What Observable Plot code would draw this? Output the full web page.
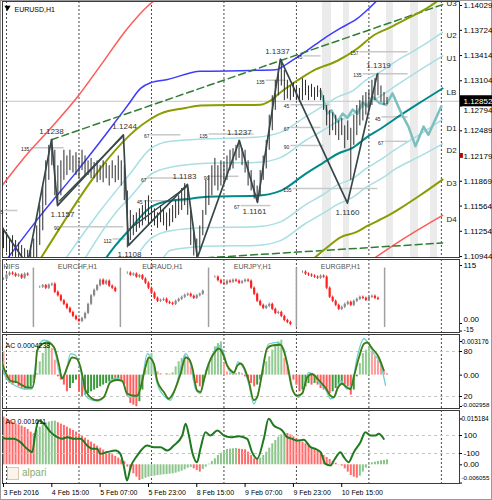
<!DOCTYPE html>
<html>
<head>
<meta charset="utf-8">
<script src="https://cdn.jsdelivr.net/npm/d3@7"></script>
<script src="https://cdn.jsdelivr.net/npm/@observablehq/plot@0.6"></script>
<style>
  body { margin: 0; background: #fff; }
  #chart { position: relative; width: 492px; height: 500px; overflow: hidden; background: #fff; font-family: "Liberation Sans", Arial, sans-serif; }
  #chart svg { position: absolute; left: 0; }
  #edge { position: absolute; left: 0; top: 0; width: 490px; height: 498px; border: 1px solid #9a9a9a; pointer-events: none; }
  #logo { position: absolute; left: 7px; top: 467px; width: 10px; height: 11px; border: 1px solid #d9c9b2; background: #fbf4ea; }
  #logotext { position: absolute; left: 22px; top: 467px; font-size: 10px; color: #86ad6e; }
</style>
</head>
<body>
<div id="chart"><div id="edge"></div></div>
<script>
// ================= DATA =================
// hourly bars, index 0 = 3 Feb 2016 23:00
const highs = [1.1129,1.1124,1.1116,1.1120,1.1114,1.1111,1.1108,1.1104,1.1102,1.1108,
1.1116,1.1132,1.1157,1.1181,1.1212,1.1231,1.1238,1.1225,1.1206,1.1212,
1.1225,1.1218,1.1225,1.1218,1.1222,1.1215,1.1225,1.1218,1.1212,1.1215,
1.1210,1.1212,1.1206,1.1212,1.1209,1.1206,1.1212,1.1206,1.1218,1.1212,
1.1206,1.1175,1.1151,1.1145,1.1148,1.1153,1.1157,1.1163,1.1169,1.1157,
1.1153,1.1148,1.1157,1.1151,1.1148,1.1153,1.1157,1.1163,1.1169,1.1178,
1.1184,1.1181,1.1151,1.1126,1.1116,1.1132,1.1151,1.1188,1.1194,1.1206,
1.1215,1.1206,1.1212,1.1210,1.1218,1.1225,1.1227,1.1231,1.1237,1.1227,
1.1225,1.1212,1.1200,1.1188,1.1181,1.1200,1.1218,1.1237,1.1268,1.1292,
1.1311,1.1323,1.1336,1.1323,1.1311,1.1304,1.1308,1.1304,1.1301,1.1313,
1.1311,1.1304,1.1306,1.1302,1.1304,1.1301,1.1292,1.1280,1.1274,1.1271,
1.1268,1.1261,1.1264,1.1255,1.1261,1.1252,1.1268,1.1280,1.1286,1.1292,
1.1296,1.1298,1.1311,1.1313,1.1319,1.1304,1.1296,1.1290];
const lows = [1.1104,1.1099,1.1092,1.1094,1.1089,1.1087,1.1083,1.1079,1.1077,1.1083,
1.1087,1.1092,1.1108,1.1126,1.1157,1.1188,1.1206,1.1169,1.1157,1.1169,
1.1188,1.1194,1.1200,1.1197,1.1194,1.1190,1.1200,1.1194,1.1194,1.1190,
1.1190,1.1185,1.1188,1.1185,1.1190,1.1181,1.1190,1.1185,1.1188,1.1181,
1.1163,1.1105,1.1114,1.1120,1.1124,1.1129,1.1132,1.1138,1.1132,1.1136,
1.1132,1.1129,1.1136,1.1132,1.1126,1.1131,1.1136,1.1141,1.1145,1.1151,
1.1157,1.1145,1.1108,1.1095,1.1092,1.1102,1.1120,1.1145,1.1157,1.1169,
1.1181,1.1175,1.1181,1.1185,1.1188,1.1200,1.1202,1.1212,1.1215,1.1206,
1.1197,1.1181,1.1175,1.1165,1.1161,1.1169,1.1188,1.1202,1.1225,1.1249,
1.1274,1.1292,1.1304,1.1286,1.1288,1.1286,1.1290,1.1286,1.1284,1.1286,
1.1292,1.1286,1.1290,1.1286,1.1290,1.1286,1.1274,1.1255,1.1243,1.1249,
1.1243,1.1237,1.1243,1.1227,1.1237,1.1188,1.1231,1.1243,1.1255,1.1261,
1.1268,1.1274,1.1280,1.1286,1.1292,1.1284,1.1280,1.1281];

const daySeparators = [1, 25, 49, 73, 97, 121, 145];
const bandStart = [105.6, 112.6, 126.8, 134.8, 141.4];
const bandEnd   = [108.6, 114.6, 129.1, 137.4, 143.7];
const currentPrice = 1.12852;
const askMarker = 1.1218;
const priceTicks = [1.14029, 1.13724, 1.13414, 1.13104, 1.12489, 1.12179, 1.11869, 1.11564, 1.11254, 1.10944];
const hiddenTick = [1.12794];

const zigzag = [[-1.0,1.1133],[7.9,1.1084],[15.9,1.1238],[17.9,1.1157],[39.7,1.1244],[41.4,1.1108],[60.9,1.1183],[64.2,1.1093],[78.1,1.1237],[84.1,1.1161],[91.7,1.1337],[113.9,1.1160],[123.8,1.1319]];
const wedgeA = [[18.6,1.1163],[39.2,1.1241]];
const wedgeB = [[41.6,1.1128],[60.6,1.1180]];

const redUpper = [[-1.0,1.1179],[7.3,1.1218],[15.6,1.1252],[24.8,1.1292],[32.1,1.1329],[41.1,1.1375],[47.7,1.1402],[52.0,1.1415]];
const redLower = [[119.9,1.1085],[131.5,1.1114],[145.4,1.1145]];
const blueLine = [[1.3,1.1092],[12.3,1.1145],[24.5,1.1200],[34.8,1.1249],[41.1,1.1280],[45.4,1.1301],[48.7,1.1308],[54.3,1.1312],[65.2,1.1322],[81.8,1.1323],[90.1,1.1324],[95.0,1.1334],[100.7,1.1348],[106.0,1.1362],[111.6,1.1375],[117.2,1.1387],[120.9,1.1399],[124.8,1.1413]];
const oliveUpper = [[12.3,1.1092],[47.7,1.1261],[52.0,1.1270],[60.3,1.1277],[65.2,1.1280],[85.1,1.1281],[88.4,1.1286],[91.7,1.1296],[97.4,1.1311],[102.6,1.1323],[110.6,1.1335],[117.2,1.1350],[122.5,1.1366],[128.1,1.1376],[133.8,1.1387],[140.4,1.1400],[144.7,1.1411]];
const oliveLower = [[100.0,1.1083],[106.6,1.1104],[111.6,1.1118],[116.6,1.1124],[120.5,1.1132],[126.5,1.1143],[131.5,1.1154],[138.1,1.1170],[145.4,1.1189]];
const tealCenter = [[32.1,1.1083],[37.1,1.1108],[42.1,1.1129],[48.7,1.1155],[55.3,1.1163],[60.9,1.1165],[67.5,1.1168],[83.4,1.1169],[91.7,1.1175],[100.0,1.1196],[105.6,1.1209],[110.9,1.1221],[115.6,1.1228],[119.9,1.1240],[125.5,1.1253],[129.8,1.1264],[138.1,1.1284],[145.4,1.1301]];
const cyanU2 = [[18.9,1.1083],[32.1,1.1151],[42.1,1.1197],[48.7,1.1227],[55.3,1.1236],[67.5,1.1239],[83.4,1.1241],[91.7,1.1247],[100.0,1.1266],[105.6,1.1279],[110.9,1.1291],[115.6,1.1298],[119.9,1.1311],[125.5,1.1323],[129.8,1.1334],[138.1,1.1352],[145.4,1.1370]];
const cyanU1 = [[25.5,1.1083],[37.1,1.1148],[42.1,1.1168],[48.7,1.1195],[55.3,1.1204],[67.5,1.1209],[83.4,1.1210],[91.7,1.1216],[100.0,1.1237],[105.6,1.1249],[110.9,1.1261],[115.6,1.1269],[119.9,1.1281],[125.5,1.1293],[129.8,1.1304],[138.1,1.1324],[145.4,1.1341]];
const cyanD1 = [[45.4,1.1102],[48.7,1.1116],[55.3,1.1126],[67.5,1.1130],[83.4,1.1131],[91.7,1.1137],[100.0,1.1158],[105.6,1.1170],[110.9,1.1183],[115.6,1.1190],[119.9,1.1202],[125.5,1.1215],[129.8,1.1226],[138.1,1.1245],[145.4,1.1263]];
const cyanD2 = [[52.0,1.1087],[55.3,1.1102],[67.5,1.1107],[83.4,1.1108],[91.7,1.1114],[100.0,1.1135],[105.6,1.1147],[110.9,1.1159],[115.6,1.1167],[119.9,1.1179],[125.5,1.1191],[129.8,1.1202],[138.1,1.1218],[145.4,1.1233]];
const trendUpper = [[15.9,1.1238],[145.4,1.1404]];
const trendLower = [[63.6,1.1092],[145.4,1.1111]];
const projection = [[105.0,1.1298],[107.3,1.1270],[108.6,1.1274],[110.6,1.1260],[112.3,1.1270],[113.9,1.1265],[115.6,1.1275],[117.2,1.1270],[118.9,1.1284],[120.5,1.1279],[122.2,1.1291],[124.5,1.1283],[126.8,1.1281],[128.8,1.1295],[131.8,1.1270],[134.1,1.1254],[136.4,1.1230],[139.1,1.1254],[140.7,1.1244],[145.0,1.1279]];

const highLabels = [["1.1238",15.9,1.1238],["1.1244",40.1,1.1244],["1.1183",59.9,1.1183],["1.1237",78.1,1.1237],["1.1337",90.7,1.1337],["1.1319",124.2,1.1319]];
const lowLabels = [["1.1157",19.5,1.1157],["1.1108",41.7,1.1108],["1.1161",83.1,1.1161],["1.1160",113.9,1.1160]];

const levelNames = ["135","5","90","112","67","67","45","135","90","67","135","67","90","45","135","157","135","45","67","45"];
const levelPrice = [1.1228,1.1151,1.1131,1.1116,1.1244,1.1191,1.1163,1.1245,1.1193,1.1157,1.1178,1.1253,1.1231,1.1281,1.1311,1.1346,1.1319,1.1266,1.1236,1.1341];
const levelFrom  = [8.9,0.3,18.9,36.1,48.7,47.7,46.4,67.9,68.5,78.5,95.7,95.0,95.0,95.0,86.8,117.9,118.9,125.2,126.2,99.3];
const levelTo    = [19.9,4.6,39.7,40.4,58.6,59.6,60.9,82.8,77.8,88.4,123.8,105.0,106.0,108.0,93.4,133.8,133.8,133.8,133.8,105.0];

const channelNames = ["U3","U2","U1","LB","D1","D2","D3","D4"];
const channelNamePrice = [1.1406,1.1366,1.1338,1.1296,1.1252,1.1225,1.1184,1.1140];

// symbol overview pane
const miniNames = ["HIFS","EURCHF,H1","EURAUD,H1","EURJPY,H1","EURGBP,H1"];
const miniStart = [0, 12, 41, 70, 99];
const miniTitleAt = [2.6, 24.5, 52.6, 82.5, 111.6];
const miniDividers = [9.9, 38.7, 67.9, 97.0, 126.2];
const miniCloses = [
  [88,96,100,98,94,96,90,98,96],
  [72,75,70,76,78,62,55,45,38,30,22,14,8,4,10,20,38,55,66,75,86,78,84,74,70,64],
  [100,96,98,92,95,88,80,70,60,50,44,46,48,42,40,38,44,48,52,56,58,54,50,55,58,64],
  [92,85,80,78,84,82,86,84,80,83,86,84,70,58,44,36,30,34,38,28,20,22,14,6,2,-2],
  [102,98,96,94,92,90,94,92,70,52,44,36,28,32,38,42,36,44,48,52,50,46,52,54,50,48]
];

// AC pane
const acValues = [0.00220,-0.00047,-0.00079,-0.00094,-0.00079,-0.00110,-0.00126,-0.00141,-0.00126,-0.00110,
-0.00079,0.00016,0.00126,0.00204,0.00267,0.00298,0.00251,0.00141,-0.00016,-0.00047,
-0.00094,-0.00157,-0.00126,-0.00079,-0.00047,-0.00157,-0.00204,-0.00188,-0.00173,-0.00157,
-0.00141,-0.00126,-0.00110,-0.00094,-0.00079,-0.00063,-0.00047,-0.00053,-0.00041,-0.00063,
-0.00094,-0.00204,-0.00267,-0.00283,-0.00298,-0.00251,-0.00141,0.00047,0.00157,0.00204,
0.00063,0.00031,0.00016,0,0.00016,0.00009,0.00022,0.00079,0.00126,0.00157,
0.00188,0.00173,0.00079,-0.00047,-0.00079,-0.00110,-0.00094,0.00047,0.00110,0.00188,
0.00267,0.00298,0.00314,0.00110,0.00031,0.00016,0.00022,0.00016,0.00025,0.00016,
-0.00016,-0.00047,-0.00079,-0.00110,-0.00094,-0.00047,0.00047,0.00126,0.00173,0.00236,
0.00283,0.00314,0.00330,0.00157,0.00079,0,-0.00047,-0.00094,-0.00157,-0.00141,
-0.00110,-0.00079,-0.00094,-0.00079,-0.00094,-0.00126,-0.00141,-0.00157,-0.00173,-0.00157,
-0.00126,-0.00094,-0.00079,-0.00094,-0.00110,-0.00188,-0.00141,-0.00016,0.00110,0.00204,
0.00236,0.00267,0.00220,0.00173,0.00141,0.00110,0.00047,0.00016];
const acSlow = [[-1.0,70],[0.7,52],[2.3,41],[4.5,39],[6.2,35],[7.8,32],[9.5,32],[10.6,55],[11.1,81],[12.8,90],[14.5,92],[16.7,86],[18.3,64],[19.4,44],[21.1,59],[22.7,72],[24.4,70],[25.5,59],[27.2,28],[29.4,17],[31.0,15],[33.2,19],[35.4,39],[37.6,42],[39.3,41],[40.9,24],[43.2,21],[44.3,21],[45.4,32],[47.0,59],[48.1,72],[49.8,64],[50.9,41],[53.1,26],[54.7,17],[56.4,26],[58.6,50],[60.3,72],[61.4,70],[62.5,59],[64.1,28],[65.2,26],[66.3,41],[68.0,64],[69.6,77],[71.3,84],[72.4,79],[74.1,61],[75.2,55],[76.3,52],[77.4,61],[78.5,64],[79.6,59],[81.2,41],[82.9,15],[84.0,19],[85.6,50],[87.3,84],[88.9,88],[91.7,89],[92.8,81],[93.9,64],[95.6,30],[97.2,21],[98.9,24],[100.6,46],[102.2,50],[103.9,44],[105.5,37],[106.6,32],[108.3,21],[109.4,19],[110.5,30],[112.1,37],[113.8,32],[114.9,30],[116.0,46],[117.7,72],[119.3,90],[120.4,92],[122.1,84],[124.3,72],[125.9,55]];
const acFast = [[-1.0,72],[0.7,46],[2.9,37],[5.1,32],[7.3,30],[9.5,30],[10.6,64],[11.7,88],[13.4,95],[15.6,92],[17.2,77],[18.9,46],[20.5,50],[22.2,77],[23.8,75],[25.5,55],[27.2,21],[29.4,15],[31.6,14],[33.8,24],[35.4,41],[37.6,44],[39.8,37],[41.5,19],[43.7,19],[45.9,41],[47.6,77],[49.2,68],[50.9,37],[53.6,19],[55.3,15],[57.0,32],[59.2,66],[60.3,77],[61.9,64],[63.6,30],[65.2,24],[67.4,59],[69.6,79],[71.3,88],[73.0,77],[74.6,55],[76.3,50],[77.6,66],[79.0,61],[81.2,37],[82.9,10],[84.5,28],[86.2,68],[87.8,90],[90.6,92],[92.8,84],[94.5,55],[96.1,26],[97.8,19],[99.4,30],[101.1,52],[102.8,48],[104.4,39],[106.6,30],[108.3,17],[109.9,21],[111.6,41],[113.8,30],[115.4,37],[117.1,72],[119.3,97],[121.0,90],[122.6,77],[124.8,64],[126.5,35]];

// AO pane
const aoValues = [0.01582,0.01526,0.01471,0.01416,0.01360,0.01327,0.01283,0.01239,0.01172,0.01084,
0.01029,0.01139,0.01250,0.01327,0.01394,0.01416,0.01438,0.01449,0.01394,0.01349,
0.01305,0.01250,0.01194,0.01139,0.01084,0.01018,0.00951,0.00885,0.00818,0.00752,
0.00686,0.00619,0.00553,0.00487,0.00431,0.00376,0.00332,0.00277,0.00221,0.00166,
0.00111,-0.00077,-0.00188,-0.00299,-0.00409,-0.00520,-0.00487,-0.00442,-0.00409,-0.00387,
-0.00376,-0.00354,-0.00343,-0.00332,-0.00321,-0.00310,-0.00299,-0.00277,-0.00243,-0.00210,
-0.00166,-0.00111,-0.00088,-0.00133,-0.00188,-0.00243,-0.00155,-0.00077,0.00022,0.00111,
0.00199,0.00310,0.00387,0.00476,0.00509,0.00520,0.00531,0.00542,0.00520,0.00509,
0.00498,0.00420,0.00310,0.00199,0.00177,0.00221,0.00310,0.00420,0.00553,0.00697,
0.00807,0.00918,0.00995,0.01062,0.01040,0.00995,0.00929,0.00863,0.00796,0.00752,
0.00697,0.00641,0.00575,0.00531,0.00465,0.00398,0.00310,0.00243,0.00177,0.00111,
0.00055,0.00011,-0.00044,-0.00133,-0.00243,-0.00354,-0.00409,-0.00442,-0.00376,-0.00243,
-0.00111,-0.00022,0.00066,0.00088,0.00111,0.00133,0.00144,0.00166];
const aoLine = [[-1,81],[1.2,63],[3.4,63],[5.6,26],[7.8,-48],[9.5,-85],[10.6,137],[11.7,267],[13.4,230],[15.6,137],[17.8,81],[19.4,63],[21.1,81],[23.3,63],[25.5,63],[27.7,-11],[29.4,-48],[31.0,-48],[32.1,-104],[34.3,-85],[37.1,-67],[38.7,-104],[39.8,-233],[40.9,-400],[42.1,-252],[44.3,-122],[47.6,-11],[49.8,-30],[52.0,-30],[54.2,-67],[56.4,-11],[59.2,100],[60.3,230],[61.4,100],[62.5,-85],[64.1,-196],[65.2,-48],[66.9,137],[68.5,100],[70.8,156],[73.0,100],[75.2,81],[78.0,93],[80.7,63],[82.3,-85],[84.0,-159],[86.2,63],[87.8,285],[89.5,211],[92.3,156],[93.9,81],[95.6,63],[97.2,44],[99.4,52],[101.7,-30],[103.3,-48],[105.0,-85],[106.6,-215],[108.3,-233],[109.4,-178],[111.6,-85],[112.7,-141],[114.3,-196],[116.0,-85],[118.2,26],[119.8,137],[121.5,100],[123.2,100],[124.3,119],[125.9,63]];

const timeTicks = [0, 16, 32, 48, 64, 80, 96, 112];
const timeLabels = ["3 Feb 2016","4 Feb 15:00","5 Feb 07:00","5 Feb 23:00","8 Feb 15:00","9 Feb 07:00","9 Feb 23:00","10 Feb 15:00"];

// ================= DRAWING =================
const XDOM = [-0.331, 151.0], XRANGE = [2, 459];
const FONT = '"Liberation Sans", Arial, sans-serif';
const chart = document.getElementById("chart");

function pane(top, height, y, marks) {
  const svg = Plot.plot({
    width: 492, height, marginLeft: 2, marginRight: 33, marginTop: 1, marginBottom: 1,
    x: {domain: XDOM, range: XRANGE, axis: null},
    y: {...y, axis: null},
    style: {position: "absolute", left: "0px", top: top + "px", background: "transparent", overflow: "visible", fontFamily: FONT, fontSize: "8px", color: "#000"},
    marks
  });
  chart.appendChild(svg);
}
const xy = {x: d => d[0], y: d => d[1], clip: true};
const daySep = () => Plot.ruleX(daySeparators, {stroke: "#4a4a4a", strokeDasharray: "2,2", strokeWidth: 1});
const frame = () => Plot.frame({stroke: "#3a3a3a"});
function rightLabels(vals, labs, dy = 0, fontSize = 8, dx = 4) {
  return [
    Plot.ruleY(vals, {x1: 151.0, x2: 152.0, stroke: "#000"}),
    Plot.text(vals, {x: 151.0, y: d => d, text: (d, k) => labs[k], textAnchor: "start", dx, dy, fontSize, fill: "#000"})
  ];
}

// ---- main price pane ----
const bars = highs.map((h, i) => ({i, h, l: lows[i]}));
const levels = levelNames.map((n, k) => ({n, p: levelPrice[k], a: levelFrom[k], b: levelTo[k]}));
pane(0, 258, {domain: [1.10932, 1.14066], range: [257, 2]}, [
  Plot.rect(bandStart, {x1: d => d, x2: (d, k) => bandEnd[k], fill: "#ebebeb"}),
  Plot.ruleY([currentPrice], {stroke: "#c6c6c6"}),
  daySep(),
  Plot.link(levels, {x1: "a", x2: "b", y1: "p", y2: "p", stroke: "#c8c8c8", strokeWidth: 1.5}),
  Plot.line(cyanU2, {...xy, stroke: "#a9dfe3", curve: "monotone-x"}),
  Plot.line(cyanU1, {...xy, stroke: "#a9dfe3", curve: "monotone-x"}),
  Plot.line(cyanD1, {...xy, stroke: "#a9dfe3", curve: "monotone-x"}),
  Plot.line(cyanD2, {...xy, stroke: "#a9dfe3", curve: "monotone-x"}),
  Plot.line(redUpper, {...xy, stroke: "#ff5a5a", curve: "monotone-x"}),
  Plot.line(redLower, {...xy, stroke: "#ff5a5a", curve: "monotone-x"}),
  Plot.line(blueLine, {...xy, stroke: "#3c3cff", curve: "monotone-x"}),
  Plot.line(trendUpper, {...xy, stroke: "#2e7d32", strokeDasharray: "7,4"}),
  Plot.line(trendLower, {...xy, stroke: "#2e7d32", strokeDasharray: "7,4"}),
  Plot.line(oliveUpper, {...xy, stroke: "#8a9c00", strokeWidth: 2, curve: "monotone-x"}),
  Plot.line(oliveLower, {...xy, stroke: "#8a9c00", strokeWidth: 2, curve: "monotone-x"}),
  Plot.line(tealCenter, {...xy, stroke: "#008a8a", strokeWidth: 2, curve: "monotone-x"}),
  Plot.line(projection, {...xy, stroke: "#7cbfbf", strokeWidth: 2.5}),
  Plot.ruleX(bars, {x: "i", y1: "l", y2: "h", stroke: "#2a2a2a", strokeWidth: 1, clip: true}),
  Plot.line(zigzag, {...xy, stroke: "#37474a", strokeWidth: 1.7}),
  Plot.line(wedgeA, {...xy, stroke: "#37474a", strokeWidth: 1.3}),
  Plot.line(wedgeB, {...xy, stroke: "#37474a", strokeWidth: 1.3}),
  Plot.text(highLabels, {x: d => d[1], y: d => d[2], text: d => d[0], dy: -8, fontSize: 8, fill: "#333"}),
  Plot.text(lowLabels, {x: d => d[1], y: d => d[2], text: d => d[0], dy: 9, fontSize: 8, fill: "#333"}),
  Plot.text(levels, {x: "a", y: "p", text: "n", textAnchor: "end", dx: -1, dy: 2, fontSize: 5, fill: "#222"}),
  Plot.text(channelNames, {x: 146.7, y: (d, k) => channelNamePrice[k], text: d => d, textAnchor: "start", fontSize: 8, fill: "#222"}),
  Plot.dot(["icon"], {frameAnchor: "top-left", dx: 5, dy: 6, symbol: "triangle", r: 2.3, fill: "#000", rotate: 180}),
  Plot.text(["EURUSD,H1"], {frameAnchor: "top-left", dx: 12, dy: 6, text: d => d, textAnchor: "start", fontSize: 7, fill: "#000"}),
  ...rightLabels(priceTicks, priceTicks.map(d => d.toFixed(5))),
  ...rightLabels(hiddenTick, hiddenTick.map(d => d.toFixed(5)), 4),
  Plot.rect([currentPrice], {x1: 151.0, x2: 162.0, y1: d => d - 0.00068, y2: d => d + 0.00068, fill: "#000"}),
  Plot.text([currentPrice], {x: 151.0, y: d => d, text: d => d.toFixed(5), textAnchor: "start", dx: 4, fontSize: 8, fill: "#fff"}),
  Plot.rect([askMarker], {x1: 151.0, x2: 152.3, y1: d => d - 0.0003, y2: d => d + 0.0003, fill: "#c00000"}),
  frame()
]);

// ---- symbols overview pane ----
const miniCandles = [];
miniCloses.forEach((arr, g) => arr.forEach((c, k) => miniCandles.push({x: miniStart[g] + k, o: k ? arr[k - 1] : c, c})));
const miniColor = d => d.c < d.o ? "#ff2020" : "#8a8a8a";
pane(258, 75, {domain: [0, 115], range: [65, 7.04]}, [
  daySep(),
  Plot.ruleX(miniDividers, {y1: -8, y2: 110, stroke: "#a0a0a0", strokeWidth: 1.5}),
  Plot.ruleX(miniCandles, {x: "x", y1: d => Math.min(d.o, d.c) - 2.5, y2: d => Math.max(d.o, d.c) + 2.5, stroke: miniColor, strokeWidth: 1}),
  Plot.ruleX(miniCandles, {x: "x", y1: "o", y2: "c", stroke: miniColor, strokeWidth: 2.2}),
  Plot.text(miniNames, {x: (d, k) => miniTitleAt[k], y: 113, text: d => d, fontSize: 7, fill: "#555"}),
  ...rightLabels([115], ["115"]),
  ...rightLabels([0], ["0.00"], -4),
  ...rightLabels([-15], ["-15"], -1, 7),
  frame()
]);

// ---- AC pane ----
const acBars = acValues.map((v, i) => ({i, v, up: i > 0 && v > acValues[i - 1]}));
const acColor = d => d.up ? (d.v >= 0 ? "#93c993" : "#3d9a3d") : (d.v >= 0 ? "#ff9c9c" : "#ff5c5c");
pane(333, 76, {domain: [-0.002958, 0.003176], range: [73, 8]}, [
  daySep(),
  Plot.ruleX(acBars, {x: "i", y1: 0, y2: "v", stroke: acColor, strokeWidth: 2, clip: true}),
  ...rightLabels([0.003176], ["0.003176"], 0, 6.5, 2),
  ...rightLabels([0], ["0.00"]),
  ...rightLabels([-0.002958], ["-0.002958"], -1, 6.2, 2),
  frame()
]);
pane(333, 76, {domain: [20, 80], range: [63, 18]}, [
  Plot.ruleY([80, 20], {stroke: "#c4c4c4", strokeDasharray: "3,3"}),
  Plot.line(acFast, {...xy, stroke: "#6fd0d0", strokeWidth: 1.3, curve: "monotone-x"}),
  Plot.line(acSlow, {...xy, stroke: "#3f7a12", strokeWidth: 1.8, curve: "monotone-x"}),
  ...rightLabels([80, 20], ["80", "20"]),
  Plot.text(["AC 0.0004238"], {frameAnchor: "top-left", dx: 3, dy: 9, text: d => d, textAnchor: "start", fontSize: 7, fill: "#000"})
]);

// ---- AO pane ----
const aoBars = aoValues.map((v, i) => ({i, v, up: i > 0 && v > aoValues[i - 1]}));
pane(409, 75, {domain: [-0.006055, 0.015184], range: [73.56, 9.5]}, [
  daySep(),
  Plot.ruleX(aoBars, {x: "i", y1: 0, y2: "v", stroke: d => d.up ? "#8cc48c" : "#ff6b6b", strokeWidth: 2, clip: true}),
  ...rightLabels([0.015184], ["0.015184"], 0, 6.5, 2),
  ...rightLabels([0], ["0.00"]),
  ...rightLabels([-0.006055], ["-0.006055"], -5, 6.2, 2),
  frame()
]);
pane(409, 75, {domain: [-100, 100], range: [44, 26]}, [
  Plot.ruleY([100, -100], {stroke: "#c4c4c4", strokeDasharray: "3,3"}),
  Plot.line(aoLine, {...xy, stroke: "#1f7a1f", strokeWidth: 2, curve: "monotone-x"}),
  ...rightLabels([100, -100], ["100", "-100"]),
  Plot.text(["AO 0.001611"], {frameAnchor: "top-left", dx: 3, dy: 9, text: d => d, textAnchor: "start", fontSize: 7, fill: "#000"})
]);

// ---- time axis ----
chart.appendChild(Plot.plot({
  width: 492, height: 17, marginLeft: 2, marginRight: 33, marginTop: 0, marginBottom: 0,
  x: {domain: XDOM, range: XRANGE, axis: null},
  y: {domain: [0, 17], range: [0, 17], axis: null},
  style: {position: "absolute", left: "0px", top: "483px", background: "transparent", overflow: "visible", fontFamily: FONT, fontSize: "7px"},
  marks: [
    Plot.ruleX(timeTicks, {y1: 0, y2: 4, stroke: "#000"}),
    Plot.text(timeTicks, {x: d => d, y: 9.5, text: (d, k) => timeLabels[k], textAnchor: "start", dx: 0, fontSize: 7, fill: "#000"})
  ]
}));

// logo
const logo = document.createElement("div"); logo.id = "logo"; chart.appendChild(logo);
const lt = document.createElement("div"); lt.id = "logotext"; lt.textContent = "alpari"; chart.appendChild(lt);
</script>
</body>
</html>
